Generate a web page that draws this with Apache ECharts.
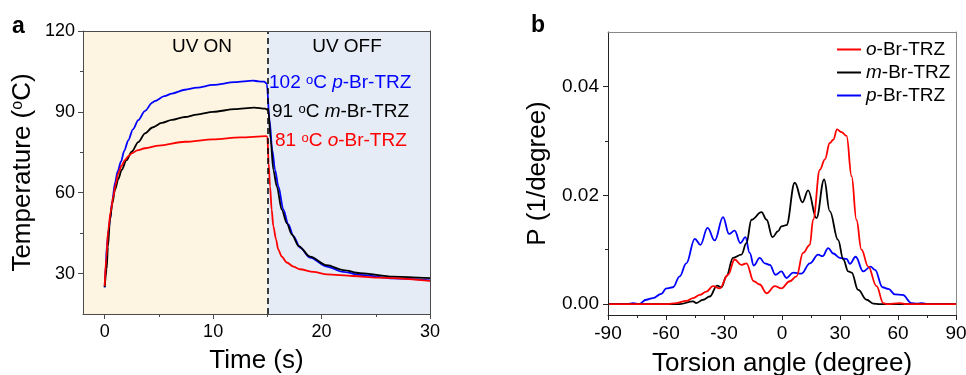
<!DOCTYPE html>
<html>
<head>
<meta charset="utf-8">
<script src="https://cdn.jsdelivr.net/npm/echarts@6/dist/echarts.min.js"></script>
<style>html,body{margin:0;padding:0;background:#fff}#c{width:966px;height:375px}</style>
</head>
<body>
<div id="c"></div>
<script>
// ---------- Panel a: temperature vs time ----------
const timeP = [0,0.1,0.2,0.35,0.49,0.7,0.95,1.2,1.5,1.8,2.18,2.6,3.1,3.7,4.4,4.6,5.5,6.2,7.4,8.5,10,12,13.7,14.2,14.7,14.95,15.2,15.45,15.71,16.02,16.48,16.94,17.4,18.02,18.94,20.48,22,23.55,26.6,30];
const tempP = [24.8,33,40,46,50,57,63.6,68,71.5,75.5,79.5,83.5,86.9,90.3,93.4,94,95.8,96.8,98.2,99,100,101,101.6,101.3,101.2,100.5,87,76,68.5,62.3,53.7,48.2,43.9,39.6,35.9,32.6,30.6,29.5,28.2,27.5];
const timeM = [0,0.18,0.3,0.49,0.7,0.95,1.25,1.57,2,2.49,3.1,3.72,4.4,5.26,6.2,7.4,8.5,10,12,13.8,14.8,15.1,15.3,15.55,15.87,16.33,16.8,17.26,17.9,18.94,20.48,22,23.55,26.6,30];
const tempM = [25,31.6,40,50,56,61,65,68.5,72,75.2,78.8,82,84.2,85.9,87,88.1,89,90,91,91.6,91.2,90.6,80,68.5,62.3,53.7,48.6,44.5,40.2,36.3,33.1,31.3,30.2,28.9,28.3];
const timeO = [0,0.15,0.33,0.55,0.8,1,1.26,1.55,1.87,2.2,2.49,3,3.72,5,7.4,10,12.5,14.9,15,15.12,15.25,15.4,15.55,15.8,16,16.33,16.79,17.4,18,19.25,20.5,22.9,25.1,30];
const tempO = [25.4,36,46.3,53,58.6,63,67.3,70,72.2,73.6,74.6,75.7,76.5,77.5,78.9,79.8,80.5,81,80.8,71,62.3,53.7,47.6,42.7,39,36.3,34.1,32.6,31.6,30.6,29.7,29.1,28.5,27.3];
const timeTicks = [0,10,20,30];
const timeMinor = [5,15,25];
const tempTicks = [30,60,90,120];
const tempMinor = [45,75,105];
const uvSwitch = 15;

// ---------- Panel b: torsion angle distribution ----------
const angP = [-90,-80,-77,-74,-70.2,-66.8,-62.4,-59.8,-56.4,-52.9,-49.5,-45.1,-42.2,-38.5,-34.8,-30.5,-27.4,-24.5,-21.5,-18.9,-16.7,-14.6,-11.5,-8.9,-6.3,-3.4,-0.3,2.3,5.8,10.1,14.4,18.7,21,23.9,26.5,29.9,33.4,35.1,38.1,42,45.8,48.1,52,55,58.4,62.4,67,70,72.2,75.7,90];
const probP = [0,0,0.0002,0,0.0008,0.0011,0.0019,0.0029,0.0031,0.0051,0.0075,0.012,0.0109,0.014,0.0117,0.016,0.0129,0.0135,0.0112,0.0123,0.0094,0.0071,0.0085,0.0075,0.0072,0.0054,0.006,0.0048,0.0058,0.0056,0.0075,0.0091,0.0088,0.0103,0.0093,0.0085,0.0083,0.0074,0.0087,0.006,0.0069,0.0063,0.0031,0.0028,0.0018,0.0017,0.0002,0.0001,0.0002,0,0];
const angM = [-90,-53,-46,-44.3,-40.8,-37.4,-33.6,-31.3,-28.8,-25.3,-21,-18.4,-15.8,-10.6,-8,-4.9,-2,-0.3,2.3,6.6,10.6,13.5,17.8,21.8,24.7,29,31.7,34.3,36,39.4,43.8,47.2,50.7,90];
const probM = [0,0,0.0005,0.0002,0.0008,0.0014,0.0034,0.0031,0.0051,0.0085,0.0091,0.0112,0.0155,0.0169,0.0155,0.0123,0.0134,0.0143,0.0145,0.0223,0.0187,0.0209,0.0158,0.0229,0.0171,0.0118,0.0082,0.006,0.0058,0.0026,0.0008,0.0001,0,0];
const angO = [-90,-60,-54.6,-49.5,-46,-42.5,-39.1,-35.7,-32.2,-27.9,-24.5,-21,-18.4,-14.6,-11.5,-8,-3.7,-0.3,4,7.5,10.9,14.4,16.1,19.6,22.2,24.7,26.5,28.5,30.8,33.4,36,38.5,41.1,44.6,48.9,52.4,54,61,64.5,90];
const probO = [0,0,0.0002,0.0006,0.0011,0.0017,0.0023,0.0033,0.0029,0.0054,0.0082,0.0072,0.0075,0.0042,0.0036,0.002,0.0033,0.0029,0.0042,0.0051,0.0094,0.0109,0.0155,0.0247,0.0266,0.0296,0.0302,0.0321,0.0316,0.0309,0.0235,0.0155,0.01,0.0069,0.0033,0.0002,0,0.0002,0,0];
const probTicks = [0,0.02,0.04];
const probMinor = [0.01,0.03];
const seriesNames = ['o-Br-TRZ','m-Br-TRZ','p-Br-TRZ'];

const zip = (a,b) => a.map((v,i) => [v,b[i]]);
const FONT = '"Liberation Sans", Arial, Helvetica, sans-serif';
const axisGrey = '#4a4a4a';
const LW = 1.8;

const chart = echarts.init(document.getElementById('c'), null, {renderer:'canvas'});

function frameAxis(pos, grid, min, max, color) {
  return {type:'value', gridIndex:grid, position:pos, min:min, max:max, z:6,
    axisLine:{show:true, onZero:false, lineStyle:{color:color, width:1}},
    axisTick:{show:false}, axisLabel:{show:false}, splitLine:{show:false}};
}
function minorAxis(pos, grid, min, max, vals, color) {
  return {type:'value', gridIndex:grid, position:pos, min:min, max:max, z:6,
    axisLine:{show:false, onZero:false},
    axisTick:{show:true, customValues:vals, length:3, lineStyle:{color:color, width:1}},
    axisLabel:{show:false}, splitLine:{show:false}};
}

const option = {
  animation:false,
  textStyle:{fontFamily:FONT},
  grid:[
    {left:83, right:536, top:31, bottom:61, containLabel:false, outerBoundsMode:'none'},
    {left:608, right:10, top:32, bottom:60, containLabel:false, outerBoundsMode:'none'}
  ],
  legend:{
    data:seriesNames, orient:'vertical', left:832, top:35, itemGap:4,
    icon:'rect', itemWidth:24, itemHeight:2,
    formatter: n => '{it|' + n.charAt(0) + '}' + n.slice(1),
    textStyle:{fontFamily:FONT, fontSize:19, color:'#000',
      rich:{it:{fontFamily:FONT, fontSize:19, fontStyle:'italic', color:'#000'}}}
  },
  xAxis:[
    {type:'value', gridIndex:0, position:'bottom', min:-2, max:30, z:6,
      axisLine:{show:true, onZero:false, lineStyle:{color:axisGrey, width:1}},
      axisTick:{show:true, customValues:timeTicks, length:5, lineStyle:{color:axisGrey}},
      axisLabel:{customValues:timeTicks, fontSize:18, color:'#000', margin:9, fontFamily:FONT},
      splitLine:{show:false},
      name:'Time (s)', nameLocation:'middle', nameGap:34,
      nameTextStyle:{fontSize:26, color:'#000', fontFamily:FONT}},
    minorAxis('bottom', 0, -2, 30, timeMinor, axisGrey),
    frameAxis('top', 0, -2, 30, axisGrey),
    {type:'value', gridIndex:1, position:'bottom', min:-90, max:90, interval:30, z:6,
      axisLine:{show:true, onZero:false, lineStyle:{color:'#222', width:1}},
      axisTick:{show:true, length:5, lineStyle:{color:'#222'}},
      minorTick:{show:true, splitNumber:2, length:3, lineStyle:{color:'#222'}},
      axisLabel:{fontSize:19, color:'#000', margin:9, fontFamily:FONT},
      splitLine:{show:false},
      name:'Torsion angle (degree)', nameLocation:'middle', nameGap:36,
      nameTextStyle:{fontSize:26, color:'#000', fontFamily:FONT}},
    frameAxis('top', 1, -90, 90, '#888')
  ],
  yAxis:[
    {type:'value', gridIndex:0, position:'left', min:15, max:120, z:6,
      axisLine:{show:true, onZero:false, lineStyle:{color:axisGrey, width:1}},
      axisTick:{show:true, customValues:tempTicks, length:5, lineStyle:{color:axisGrey}},
      axisLabel:{customValues:tempTicks, fontSize:18, color:'#000', margin:8, fontFamily:FONT},
      splitLine:{show:false},
      name:'Temperature ({sup|o}C)', nameLocation:'middle', nameGap:47,
      nameTextStyle:{fontSize:26, color:'#000', fontFamily:FONT,
        rich:{sup:{fontSize:16, verticalAlign:'top', color:'#000', fontFamily:FONT}}}},
    minorAxis('left', 0, 15, 120, tempMinor, axisGrey),
    frameAxis('right', 0, 15, 120, axisGrey),
    {type:'value', gridIndex:1, position:'left', min:-0.002, max:0.05, z:6,
      axisLine:{show:true, onZero:false, lineStyle:{color:'#222', width:1}},
      axisTick:{show:true, customValues:probTicks, length:5, lineStyle:{color:'#222'}},
      axisLabel:{customValues:probTicks, fontSize:19, color:'#000', margin:9, fontFamily:FONT,
        formatter: v => v.toFixed(2)},
      splitLine:{show:false},
      name:'P (1/degree)', nameLocation:'middle', nameGap:57,
      nameTextStyle:{fontSize:26, color:'#000', fontFamily:FONT}},
    minorAxis('left', 1, -0.002, 0.05, probMinor, '#222'),
    frameAxis('right', 1, -0.002, 0.05, '#888')
  ],
  series:[
    {name:'p-Br-TRZ a', type:'line', xAxisIndex:0, yAxisIndex:0, data:zip(timeP,tempP),
      showSymbol:false, symbol:'none', smooth:0.3, smoothMonotone:'x',
      lineStyle:{color:'#0000ff', width:LW}, itemStyle:{color:'#0000ff'},
      markArea:{silent:true, data:[
        [{xAxis:-2, itemStyle:{color:'#fdf5e1'}}, {xAxis:uvSwitch}],
        [{xAxis:uvSwitch, itemStyle:{color:'#e6ecf6'}}, {xAxis:30}]
      ]}},
    {name:'m-Br-TRZ a', type:'line', xAxisIndex:0, yAxisIndex:0, data:zip(timeM,tempM),
      showSymbol:false, symbol:'none', smooth:0.3, smoothMonotone:'x',
      lineStyle:{color:'#000', width:LW}, itemStyle:{color:'#000'}},
    {name:'o-Br-TRZ a', type:'line', xAxisIndex:0, yAxisIndex:0, data:zip(timeO,tempO),
      showSymbol:false, symbol:'none', smooth:0.3, smoothMonotone:'x',
      lineStyle:{color:'#ff0000', width:LW}, itemStyle:{color:'#ff0000'},
      markLine:{silent:true, symbol:'none', label:{show:false},
        lineStyle:{color:'#000', type:[6,4], width:1.5},
        data:[{xAxis:uvSwitch}]}},
    {name:'p-Br-TRZ', type:'line', xAxisIndex:3, yAxisIndex:3, data:zip(angP,probP),
      showSymbol:false, symbol:'none', smooth:0.4, smoothMonotone:'x',
      lineStyle:{color:'#0000ff', width:LW}, itemStyle:{color:'#0000ff'}},
    {name:'m-Br-TRZ', type:'line', xAxisIndex:3, yAxisIndex:3, data:zip(angM,probM),
      showSymbol:false, symbol:'none', smooth:0.4, smoothMonotone:'x',
      lineStyle:{color:'#000', width:LW}, itemStyle:{color:'#000'}},
    {name:'o-Br-TRZ', type:'line', xAxisIndex:3, yAxisIndex:3, data:zip(angO,probO),
      showSymbol:false, symbol:'none', smooth:0.4, smoothMonotone:'x',
      lineStyle:{color:'#ff0000', width:LW}, itemStyle:{color:'#ff0000'}}
  ],
  graphic:[
    {type:'text', x:12, y:27, z:20, style:{text:'a', fontFamily:FONT, fontSize:23, fontWeight:'bold', fill:'#000', verticalAlign:'middle'}},
    {type:'text', x:531, y:26, z:20, style:{text:'b', fontFamily:FONT, fontSize:23, fontWeight:'bold', fill:'#000', verticalAlign:'middle'}},
    {type:'text', x:202, y:47, z:20, style:{text:'UV ON', fontFamily:FONT, fontSize:19, fill:'#000', align:'center', verticalAlign:'middle'}},
    {type:'text', x:347, y:47, z:20, style:{text:'UV OFF', fontFamily:FONT, fontSize:19, fill:'#000', align:'center', verticalAlign:'middle'}},
    {type:'text', x:269, y:83, z:20, style:{text:'102 {sup|o}C {it|p}-Br-TRZ', fontFamily:FONT, fontSize:19, fill:'#0000ff', verticalAlign:'middle',
      rich:{sup:{fontSize:13, verticalAlign:'top', fill:'#0000ff', fontFamily:FONT}, it:{fontStyle:'italic', fontSize:19, fill:'#0000ff', fontFamily:FONT}}}},
    {type:'text', x:272, y:112, z:20, style:{text:'91 {sup|o}C {it|m}-Br-TRZ', fontFamily:FONT, fontSize:19, fill:'#000', verticalAlign:'middle',
      rich:{sup:{fontSize:13, verticalAlign:'top', fill:'#000', fontFamily:FONT}, it:{fontStyle:'italic', fontSize:19, fill:'#000', fontFamily:FONT}}}},
    {type:'text', x:275, y:141, z:20, style:{text:'81 {sup|o}C {it|o}-Br-TRZ', fontFamily:FONT, fontSize:19, fill:'#ff0000', verticalAlign:'middle',
      rich:{sup:{fontSize:13, verticalAlign:'top', fill:'#ff0000', fontFamily:FONT}, it:{fontStyle:'italic', fontSize:19, fill:'#ff0000', fontFamily:FONT}}}}
  ]
};
chart.setOption(option);
</script>
</body>
</html>
